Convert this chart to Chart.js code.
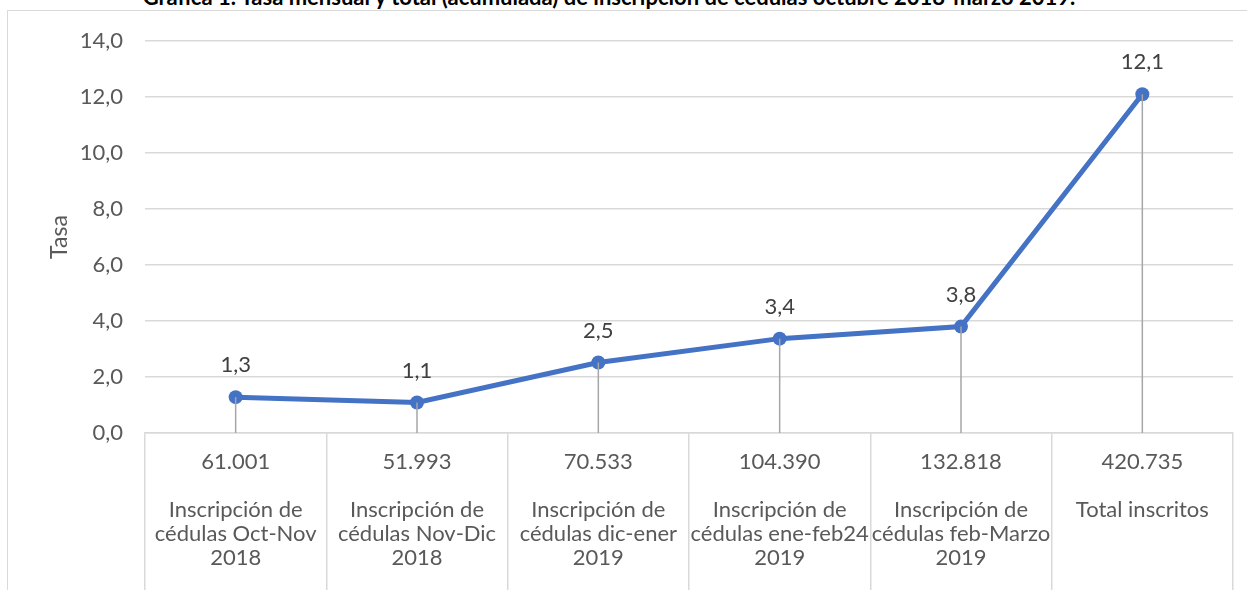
<!DOCTYPE html>
<html>
<head>
<meta charset="utf-8">
<script src="https://cdn.jsdelivr.net/npm/chart.js@4"></script>
<style>
    body { margin: 0; background: #fff; }
    #wrap { position: relative; width: 1247px; height: 590px; overflow: hidden; }
    #frame { position: absolute; left: 7px; top: 10px; right: -2px; bottom: -2px; border-left: 1.5px solid #d9d9d9; border-top: 1.5px solid #d9d9d9; }
    #title { position: absolute; left: 0; width: 1218px; top: -14px; text-align: center; font: bold 22px Lato, sans-serif; line-height: 22px; color: #000; }
    canvas { position: absolute; left: 0; top: 0; }
</style>
</head>
<body>
<div id="wrap">
    <div id="title">Gráfica 1. Tasa mensual y total (acumulada) de inscripción de cédulas octubre 2018-marzo 2019.</div>
    <div id="frame"></div>
    <canvas id="chart" width="1247" height="590"></canvas>
</div>
<script>
const inscritos = ['61.001', '51.993', '70.533', '104.390', '132.818', '420.735'];
const periodos = [
    ['Inscripción de', 'cédulas Oct-Nov', '2018'],
    ['Inscripción de', 'cédulas Nov-Dic', '2018'],
    ['Inscripción de', 'cédulas dic-ener', '2019'],
    ['Inscripción de', 'cédulas ene-feb24', '2019'],
    ['Inscripción de', 'cédulas feb-Marzo', '2019'],
    ['Total inscritos']
];
const tasa = [1.28, 1.09, 2.52, 3.37, 3.8, 12.1];

const fmt = v => v.toFixed(1).replace('.', ',');
const labels = inscritos.map((n, i) => [n, '', ...periodos[i]]);
const FONT = 'Lato, sans-serif';

// drop lines + value labels
const extras = {
    id: 'extras',
    afterDatasetsDraw(chart) {
        const ctx = chart.ctx;
        const meta = chart.getDatasetMeta(0);
        const bottom = chart.scales.y.bottom;
        ctx.save();
        ctx.strokeStyle = '#a6a6a6';
        ctx.lineWidth = 1.5;
        meta.data.forEach(pt => {
            ctx.beginPath();
            ctx.moveTo(pt.x, pt.y);
            ctx.lineTo(pt.x, bottom);
            ctx.stroke();
        });
        ctx.fillStyle = '#404040';
        ctx.font = '22px ' + FONT;
        ctx.textAlign = 'center';
        ctx.textBaseline = 'middle';
        meta.data.forEach((pt, i) => {
            ctx.fillText(fmt(tasa[i]), pt.x, pt.y - 32);
        });
        ctx.restore();
    }
};

new Chart(document.getElementById('chart'), {
    type: 'line',
    data: {
        labels: labels,
        datasets: [{
            data: tasa,
            borderColor: '#4472C4',
            backgroundColor: '#4472C4',
            borderWidth: 5,
            pointRadius: 7,
            pointBackgroundColor: '#4472C4',
            pointBorderWidth: 0,
            tension: 0
        }]
    },
    options: {
        responsive: false,
        animation: false,
        layout: { padding: { left: 40, top: 41, right: 14, bottom: 0 } },
        plugins: { legend: { display: false }, tooltip: { enabled: false } },
        scales: {
            x: {
                offset: true,
                grid: {
                    offset: true,
                    drawOnChartArea: false,
                    drawTicks: true,
                    tickLength: 170,
                    color: '#d9d9d9',
                    lineWidth: 1.5
                },
                border: { display: true, color: '#d9d9d9', width: 1.5 },
                ticks: {
                    autoSkip: false,
                    maxRotation: 0,
                    padding: -153,
                    color: '#595959',
                    font: { family: FONT, size: 22, lineHeight: '24px' }
                },
                afterFit(scale) { scale.height = 157; }
            },
            y: {
                min: 0,
                max: 14,
                ticks: {
                    stepSize: 2,
                    padding: 22,
                    color: '#595959',
                    font: { family: FONT, size: 22 },
                    callback: v => fmt(v)
                },
                grid: { color: '#d9d9d9', lineWidth: 1.5, drawTicks: false },
                border: { display: false },
                title: {
                    display: true,
                    text: 'Tasa',
                    color: '#595959',
                    font: { family: FONT, size: 23 },
                    padding: { top: 6, bottom: 0 }
                },
                afterFit(scale) { scale.width = 105; }
            }
        }
    },
    plugins: [extras]
});
</script>
</body>
</html>
